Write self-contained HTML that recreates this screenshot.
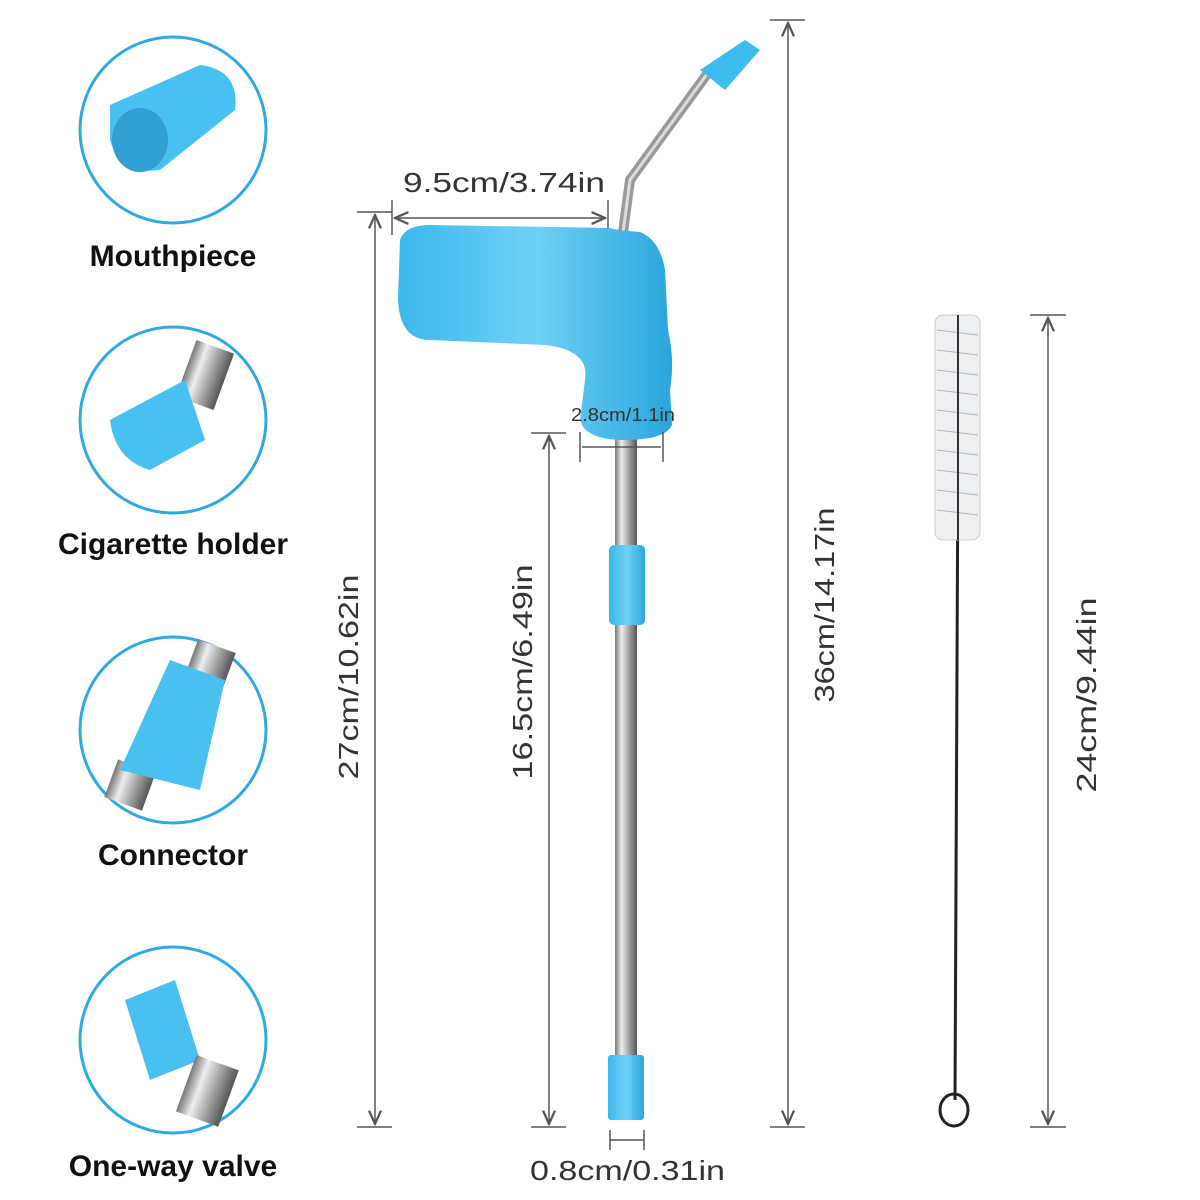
<!DOCTYPE html>
<html><head><meta charset="utf-8"><style>
html,body{margin:0;padding:0;background:#fff;}
svg{display:block;}
text{font-family:"Liberation Sans",sans-serif;}
</style></head><body>
<svg width="1200" height="1200" viewBox="0 0 1200 1200" xmlns="http://www.w3.org/2000/svg">
<defs>
<linearGradient id="steel" x1="0" x2="1" y1="0" y2="0">
<stop offset="0" stop-color="#777"/><stop offset="0.3" stop-color="#eee"/><stop offset="0.6" stop-color="#aaa"/><stop offset="1" stop-color="#555"/>
</linearGradient>
<linearGradient id="blue" x1="0" x2="1" y1="0" y2="0">
<stop offset="0" stop-color="#3bb8ec"/><stop offset="0.5" stop-color="#6fd0f6"/><stop offset="1" stop-color="#2aa6dc"/>
</linearGradient>
<marker id="ar" markerWidth="10" markerHeight="10" refX="9" refY="5" orient="auto-start-reverse"><path d="M0,1 L9,5 L0,9" fill="none" stroke="#555" stroke-width="1.5"/></marker>
</defs>

<g fill="none" stroke="#2fa9e2" stroke-width="3">
<circle cx="173" cy="130" r="93"/>
<circle cx="173" cy="420" r="93"/>
<circle cx="173" cy="730" r="93"/>
<circle cx="173" cy="1040" r="93"/>
</g>
<path d="M110,105 L200,65 Q240,70 235,110 L160,170 Q120,175 110,140 Z" fill="#48c1f1"/>
<ellipse cx="140" cy="140" rx="28" ry="32" fill="#2f9fd4"/>
<rect x="185" y="345" width="40" height="60" fill="url(#steel)" transform="rotate(20 205 375)"/>
<path d="M110,420 L185,380 L205,440 L150,470 Q115,460 110,420Z" fill="#48c1f1"/>
<rect x="190" y="645" width="40" height="40" fill="url(#steel)" transform="rotate(20 210 665)"/>
<rect x="110" y="765" width="40" height="40" fill="url(#steel)" transform="rotate(20 130 785)"/>
<path d="M170,660 L225,680 L200,790 L120,770 Z" fill="#48c1f1"/>
<path d="M125,1000 L175,980 L200,1060 L150,1080 Z" fill="#48c1f1"/>
<rect x="185" y="1060" width="45" height="60" fill="url(#steel)" transform="rotate(20 205 1090)"/>

<g font-size="30" font-weight="bold" fill="#111" text-anchor="middle">
<text x="173" y="266">Mouthpiece</text>
<text x="173" y="554">Cigarette holder</text>
<text x="173" y="865">Connector</text>
<text x="173" y="1176">One-way valve</text>
</g>

<g stroke="#555" stroke-width="1.5" fill="none">
<line x1="357" y1="212" x2="392" y2="212"/><line x1="357" y1="1127" x2="392" y2="1127"/>
<line x1="375" y1="215" x2="375" y2="1124" marker-start="url(#ar)" marker-end="url(#ar)"/>
<line x1="392" y1="200" x2="392" y2="235"/><line x1="608" y1="200" x2="608" y2="235"/>
<line x1="395" y1="218" x2="605" y2="218" marker-start="url(#ar)" marker-end="url(#ar)"/>
<line x1="531" y1="433" x2="566" y2="433"/><line x1="531" y1="1127" x2="566" y2="1127"/>
<line x1="549" y1="436" x2="549" y2="1124" marker-start="url(#ar)" marker-end="url(#ar)"/>
<line x1="770" y1="20" x2="805" y2="20"/><line x1="770" y1="1127" x2="805" y2="1127"/>
<line x1="788" y1="23" x2="788" y2="1124" marker-start="url(#ar)" marker-end="url(#ar)"/>
<line x1="1030" y1="315" x2="1066" y2="315"/><line x1="1030" y1="1127" x2="1066" y2="1127"/>
<line x1="1048" y1="318" x2="1048" y2="1124" marker-start="url(#ar)" marker-end="url(#ar)"/>
<line x1="610" y1="1130" x2="610" y2="1150"/><line x1="644" y1="1130" x2="644" y2="1150"/>
<line x1="610" y1="1140" x2="644" y2="1140"/>
</g>

<g font-size="28" fill="#333">
<text x="403" y="192" textLength="202" lengthAdjust="spacingAndGlyphs">9.5cm/3.74in</text>
<text x="530" y="1180" textLength="195" lengthAdjust="spacingAndGlyphs">0.8cm/0.31in</text>
<text transform="translate(358,677) rotate(-90)" text-anchor="middle" textLength="205" lengthAdjust="spacingAndGlyphs">27cm/10.62in</text>
<text transform="translate(532,672) rotate(-90)" text-anchor="middle" textLength="215" lengthAdjust="spacingAndGlyphs">16.5cm/6.49in</text>
<text transform="translate(834,605) rotate(-90)" text-anchor="middle" textLength="195" lengthAdjust="spacingAndGlyphs">36cm/14.17in</text>
<text transform="translate(1096,695) rotate(-90)" text-anchor="middle" textLength="195" lengthAdjust="spacingAndGlyphs">24cm/9.44in</text>
</g>

<path d="M622,240 L630,180 L710,70" fill="none" stroke="#999" stroke-width="10"/>
<path d="M622,240 L630,180 L710,70" fill="none" stroke="#ddd" stroke-width="3"/>
<path d="M700,70 L745,40 L760,50 L725,90 Z" fill="#3cbcef"/>
<rect x="615" y="430" width="22" height="690" fill="url(#steel)"/>
<path d="M400,240 Q405,225 430,225 L610,228 Q615,230 640,232 Q660,240 665,270 L668,330 Q675,360 670,390 L672,425 Q665,440 625,440 Q585,440 580,420 L585,380 Q590,350 545,345 L430,340 Q400,340 398,300 Z" fill="url(#blue)"/>
<rect x="609" y="545" width="36" height="80" rx="5" fill="url(#blue)"/>
<rect x="608" y="1055" width="36" height="65" rx="3" fill="url(#blue)"/>

<g stroke="#555" stroke-width="1.5" fill="none">
<line x1="580" y1="432" x2="580" y2="462"/><line x1="663" y1="432" x2="663" y2="462"/>
<line x1="582" y1="447" x2="661" y2="447"/>
</g>
<text x="571" y="421" font-size="18" fill="#333" textLength="104" lengthAdjust="spacingAndGlyphs">2.8cm/1.1in</text>

<line x1="958" y1="450" x2="955" y2="1100" stroke="#222" stroke-width="3"/>
<ellipse cx="954" cy="1110" rx="14" ry="16" fill="none" stroke="#222" stroke-width="3"/>
<rect x="935" y="315" width="45" height="225" rx="8" fill="#eef0f2" stroke="#c8ccd0"/>
<g stroke="#b0b5ba" stroke-width="1">
<path d="M937,330 L978,335 M937,350 L978,355 M937,370 L978,375 M937,390 L978,395 M937,410 L978,415 M937,430 L978,435 M937,450 L978,455 M937,470 L978,475 M937,490 L978,495 M937,510 L978,515"/>
</g>
<line x1="958" y1="315" x2="958" y2="540" stroke="#333" stroke-width="2"/>
</svg>
</body></html>
